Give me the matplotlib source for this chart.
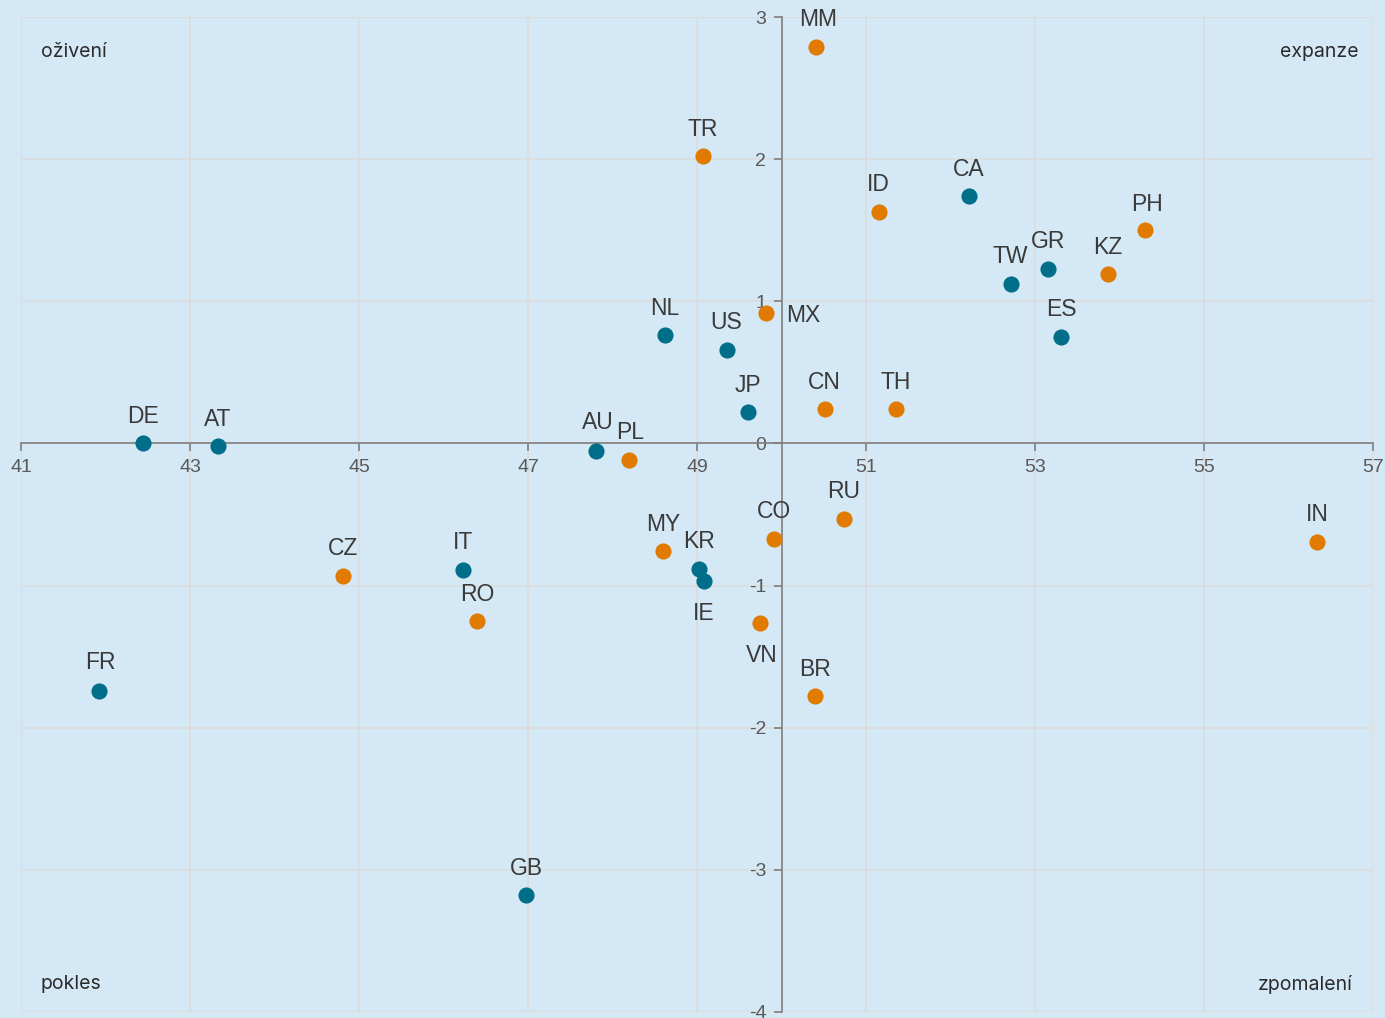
import matplotlib
matplotlib.use("Agg")
import matplotlib.pyplot as plt

plt.rcParams["axes.unicode_minus"] = False

# Data
codes_teal = ["DE", "AT", "FR", "IT", "GB", "AU", "KR", "IE", "NL", "US", "JP", "CA", "TW", "GR", "ES"]
x_teal = [42.44, 43.33, 41.92, 46.23, 46.98, 47.80, 49.02, 49.08, 48.62, 49.35, 49.60, 52.22, 52.72, 53.15, 53.31]
y_teal = [0.00, -0.02, -1.74, -0.89, -3.18, -0.05, -0.88, -0.97, 0.76, 0.66, 0.22, 1.74, 1.12, 1.23, 0.75]

codes_orange = ["CZ", "RO", "PL", "MY", "CO", "VN", "BR", "RU", "IN", "MX", "TR", "MM", "ID", "KZ", "PH", "CN", "TH"]
x_orange = [44.81, 46.40, 48.20, 48.60, 49.91, 49.74, 50.40, 50.74, 56.34, 49.82, 49.07, 50.41, 51.15, 53.86, 54.30, 50.51, 51.35]
y_orange = [-0.93, -1.25, -0.12, -0.76, -0.67, -1.26, -1.78, -0.53, -0.69, 0.92, 2.02, 2.79, 1.63, 1.19, 1.50, 0.24, 0.24]

x_ticks = [41, 43, 45, 47, 49, 51, 53, 55, 57]
y_ticks = [-4, -3, -2, -1, 0, 1, 2, 3]
quadrants = ["oživení", "expanze", "pokles", "zpomalení"]

# label offsets in pixels (style)
default_off = (0, 27)
label_off = {
    "IE": (0, -32), "VN": (2, -33), "MX": (37, -3), "AU": (2, 28), "PL": (1, 28),
    "TW": (-1, 28), "FR": (2, 28), "MM": (2, 27), "PH": (2, 26),
}

TEAL = "#006e89"
ORANGE = "#e07a00"
BG = "#d5e8f5"

fig = plt.figure(figsize=(13.85, 10.18), dpi=100)
fig.patch.set_facecolor(BG)
ax = fig.add_axes([21/1385, 1-1012/1018, (1373-21)/1385, (1012-17)/1018])
ax.set_facecolor(BG)
ax.set_xlim(41, 57)
ax.set_ylim(-4, 3)

ax.spines["left"].set_position(("data", 50))
ax.spines["bottom"].set_position(("data", 0))
ax.spines["top"].set_visible(False)
ax.spines["right"].set_visible(False)
for s in ("left", "bottom"):
    ax.spines[s].set_color("#7f7f7f")
    ax.spines[s].set_linewidth(1.2)
    ax.spines[s].set_zorder(2)

ax.set_xticks(x_ticks)
ax.set_yticks(y_ticks)
ax.tick_params(axis="both", colors="#7f7f7f", length=6, width=1.2, labelcolor="#595959", labelsize=14)
ax.tick_params(axis="x", pad=5)
ax.tick_params(axis="y", pad=5)
for lab in ax.get_xticklabels() + ax.get_yticklabels():
    lab.set_family(["Liberation Sans", "DejaVu Sans"])

ax.grid(True, color="#dcdcdc", linewidth=1.2, zorder=0)
ax.set_axisbelow(True)
for xv in (41, 57):
    ax.axvline(xv, color="#dcdcdc", linewidth=1.5, zorder=0)
for yv in (-4, 3):
    ax.axhline(yv, color="#dcdcdc", linewidth=1.5, zorder=0)

ax.scatter(x_teal, y_teal, s=135, color=TEAL, zorder=4, linewidths=0, clip_on=False)
ax.scatter(x_orange, y_orange, s=135, color=ORANGE, zorder=4, linewidths=0, clip_on=False)

for codes, xs, ys in ((codes_teal, x_teal, y_teal), (codes_orange, x_orange, y_orange)):
    for c, xv, yv in zip(codes, xs, ys):
        dx, dy = label_off.get(c, default_off)
        ax.annotate(c, (xv, yv), xytext=(dx, dy), textcoords="offset pixels",
                    ha="center", va="center", fontsize=16.5, color="#3a3a3a",
                    family=["Liberation Sans", "DejaVu Sans"], zorder=5, annotation_clip=False)

qfont = dict(fontsize=14, color="#2b2b2b", family=["Inter", "DejaVu Sans"])
fig.text(41/1385, 1-52/1018, quadrants[0], ha="left", va="center", **qfont)
fig.text(1359/1385, 1-52/1018, quadrants[1], ha="right", va="center", **qfont)
fig.text(41/1385, 1-984/1018, quadrants[2], ha="left", va="center", **qfont)
fig.text(1353/1385, 1-984/1018, quadrants[3], ha="right", va="center", **qfont)

fig.savefig("out.png", dpi=100, facecolor=BG)
